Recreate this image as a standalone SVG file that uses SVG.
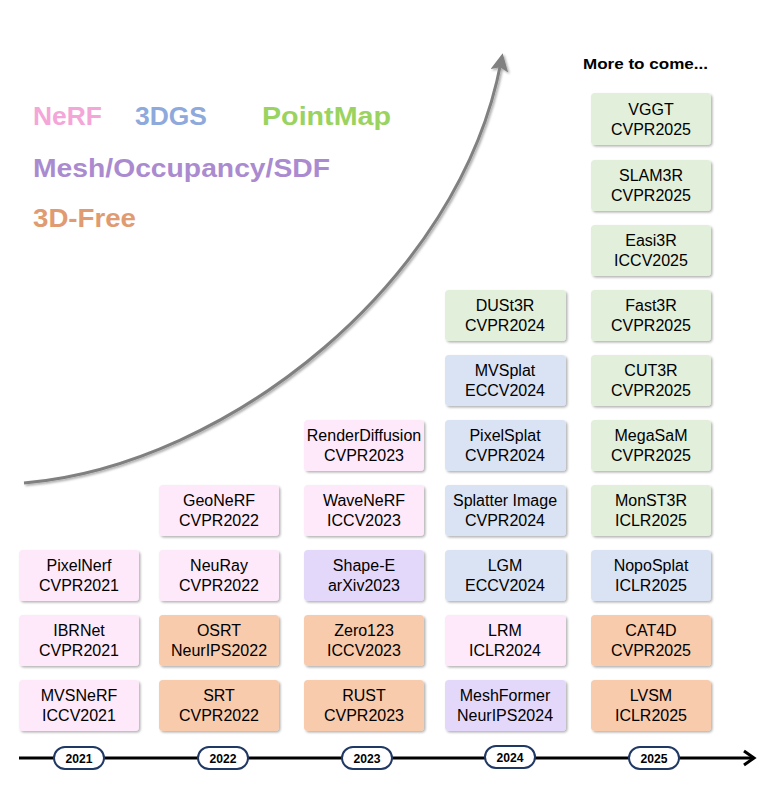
<svg xmlns="http://www.w3.org/2000/svg" width="759" height="786" viewBox="0 0 759 786">
<defs>
<style>
.box{stroke:none;filter:url(#sh)}
.nerf{fill:#FDE9F9}
.gs{fill:#DAE3F3}
.pm{fill:#E2EFDA}
.mesh{fill:#E4D8FA}
.free{fill:#F8CBAD}
.t{font-family:"Liberation Sans",Arial,sans-serif;font-size:16px;fill:#000;text-anchor:middle}
.leg{font-family:"Liberation Sans",Arial,sans-serif;font-size:25px;font-weight:bold}
.yr{font-family:"Liberation Sans",Arial,sans-serif;font-size:12.5px;font-weight:bold;fill:#000;text-anchor:middle}
.pill{fill:#fff;stroke:#203864;stroke-width:2}
</style>
<filter id="sh" x="-10%" y="-10%" width="130%" height="140%">
<feDropShadow dx="1.5" dy="1.5" stdDeviation="1" flood-color="#000" flood-opacity="0.3"/>
</filter>
<filter id="csh" x="-10%" y="-10%" width="130%" height="130%">
<feDropShadow dx="1.5" dy="1.5" stdDeviation="1" flood-color="#000" flood-opacity="0.35"/>
</filter>
<marker id="ah" markerWidth="6" markerHeight="6" refX="3" refY="3" orient="auto" markerUnits="strokeWidth">
<path d="M0,0 L6,3 L0,6 L1.2,3 Z" fill="#808080"/>
</marker>
</defs>
<rect width="759" height="786" fill="#fff"/>

<!-- legend -->
<g id="legend">
<text class="leg" x="33" y="125" fill="#F5A6D8" textLength="69" lengthAdjust="spacingAndGlyphs">NeRF</text>
<text class="leg" x="135" y="125" fill="#8EA9DB" textLength="72" lengthAdjust="spacingAndGlyphs">3DGS</text>
<text class="leg" x="262" y="125" fill="#9AD35F" textLength="129" lengthAdjust="spacingAndGlyphs">PointMap</text>
<text class="leg" x="33" y="177" fill="#AB8BD0" textLength="297" lengthAdjust="spacingAndGlyphs">Mesh/Occupancy/SDF</text>
<text class="leg" x="33" y="227" fill="#E09B72" textLength="103" lengthAdjust="spacingAndGlyphs">3D-Free</text>
</g>

<text x="583" y="69" font-family="Liberation Sans,Arial,sans-serif" font-size="15" font-weight="bold" textLength="125" lengthAdjust="spacingAndGlyphs">More to come...</text>

<!-- connectors -->
<g id="connectors">
<path d="M24,483 C230,465 460,280 501,62" fill="none" stroke="#808080" stroke-width="3" marker-end="url(#ah)" filter="url(#csh)"/>
<line x1="19" y1="758" x2="754" y2="758" stroke="#000" stroke-width="3"/>
<polyline points="744,751 754,758 744,765" fill="none" stroke="#000" stroke-width="3"/>
</g>

<!-- timeline years -->
<g id="y2021"><rect class="pill" x="54" y="747" width="50" height="22" rx="11"/><text class="yr" x="79" y="763" textLength="27" lengthAdjust="spacingAndGlyphs">2021</text></g>
<g id="y2022"><rect class="pill" x="198" y="747" width="50" height="22" rx="11"/><text class="yr" x="223" y="763" textLength="27" lengthAdjust="spacingAndGlyphs">2022</text></g>
<g id="y2023"><rect class="pill" x="342" y="747" width="50" height="22" rx="11"/><text class="yr" x="367" y="763" textLength="27" lengthAdjust="spacingAndGlyphs">2023</text></g>
<g id="y2024"><rect class="pill" x="485" y="746" width="50" height="22" rx="11"/><text class="yr" x="510" y="762" textLength="27" lengthAdjust="spacingAndGlyphs">2024</text></g>
<g id="y2025"><rect class="pill" x="629" y="747" width="50" height="22" rx="11"/><text class="yr" x="654" y="763" textLength="27" lengthAdjust="spacingAndGlyphs">2025</text></g>

<!-- 2021 -->
<g id="pixelnerf"><rect class="box nerf" x="19" y="550" width="120" height="51" rx="4"/><text class="t" x="79" y="571">PixelNerf</text><text class="t" x="79" y="591">CVPR2021</text></g>
<g id="ibrnet"><rect class="box nerf" x="19" y="615" width="120" height="51" rx="4"/><text class="t" x="79" y="636">IBRNet</text><text class="t" x="79" y="656">CVPR2021</text></g>
<g id="mvsnerf"><rect class="box nerf" x="19" y="680" width="120" height="51" rx="4"/><text class="t" x="79" y="701">MVSNeRF</text><text class="t" x="79" y="721">ICCV2021</text></g>

<!-- 2022 -->
<g id="geonerf"><rect class="box nerf" x="159" y="485" width="120" height="51" rx="4"/><text class="t" x="219" y="506">GeoNeRF</text><text class="t" x="219" y="526">CVPR2022</text></g>
<g id="neuray"><rect class="box nerf" x="159" y="550" width="120" height="51" rx="4"/><text class="t" x="219" y="571">NeuRay</text><text class="t" x="219" y="591">CVPR2022</text></g>
<g id="osrt"><rect class="box free" x="159" y="615" width="120" height="51" rx="4"/><text class="t" x="219" y="636">OSRT</text><text class="t" x="219" y="656">NeurIPS2022</text></g>
<g id="srt"><rect class="box free" x="159" y="680" width="120" height="51" rx="4"/><text class="t" x="219" y="701">SRT</text><text class="t" x="219" y="721">CVPR2022</text></g>

<!-- 2023 -->
<g id="renderdiffusion"><rect class="box nerf" x="304" y="420" width="120" height="51" rx="4"/><text class="t" x="364" y="441">RenderDiffusion</text><text class="t" x="364" y="461">CVPR2023</text></g>
<g id="wavenerf"><rect class="box nerf" x="304" y="485" width="120" height="51" rx="4"/><text class="t" x="364" y="506">WaveNeRF</text><text class="t" x="364" y="526">ICCV2023</text></g>
<g id="shapee"><rect class="box mesh" x="304" y="550" width="120" height="51" rx="4"/><text class="t" x="364" y="571">Shape-E</text><text class="t" x="364" y="591">arXiv2023</text></g>
<g id="zero123"><rect class="box free" x="304" y="615" width="120" height="51" rx="4"/><text class="t" x="364" y="636">Zero123</text><text class="t" x="364" y="656">ICCV2023</text></g>
<g id="rust"><rect class="box free" x="304" y="680" width="120" height="51" rx="4"/><text class="t" x="364" y="701">RUST</text><text class="t" x="364" y="721">CVPR2023</text></g>

<!-- 2024 -->
<g id="dust3r"><rect class="box pm" x="445" y="290" width="121" height="51" rx="4"/><text class="t" x="505" y="311">DUSt3R</text><text class="t" x="505" y="331">CVPR2024</text></g>
<g id="mvsplat"><rect class="box gs" x="445" y="355" width="121" height="51" rx="4"/><text class="t" x="505" y="376">MVSplat</text><text class="t" x="505" y="396">ECCV2024</text></g>
<g id="pixelsplat"><rect class="box gs" x="445" y="420" width="121" height="51" rx="4"/><text class="t" x="505" y="441">PixelSplat</text><text class="t" x="505" y="461">CVPR2024</text></g>
<g id="splatterimage"><rect class="box gs" x="445" y="485" width="121" height="51" rx="4"/><text class="t" x="505" y="506">Splatter Image</text><text class="t" x="505" y="526">CVPR2024</text></g>
<g id="lgm"><rect class="box gs" x="445" y="550" width="121" height="51" rx="4"/><text class="t" x="505" y="571">LGM</text><text class="t" x="505" y="591">ECCV2024</text></g>
<g id="lrm"><rect class="box nerf" x="445" y="615" width="121" height="51" rx="4"/><text class="t" x="505" y="636">LRM</text><text class="t" x="505" y="656">ICLR2024</text></g>
<g id="meshformer"><rect class="box mesh" x="445" y="680" width="121" height="51" rx="4"/><text class="t" x="505" y="701">MeshFormer</text><text class="t" x="505" y="721">NeurIPS2024</text></g>

<!-- 2025 -->
<g id="vggt"><rect class="box pm" x="591" y="93" width="120" height="52" rx="4"/><text class="t" x="651" y="115">VGGT</text><text class="t" x="651" y="135">CVPR2025</text></g>
<g id="slam3r"><rect class="box pm" x="591" y="160" width="120" height="51" rx="4"/><text class="t" x="651" y="181">SLAM3R</text><text class="t" x="651" y="201">CVPR2025</text></g>
<g id="easi3r"><rect class="box pm" x="591" y="225" width="120" height="51" rx="4"/><text class="t" x="651" y="246">Easi3R</text><text class="t" x="651" y="266">ICCV2025</text></g>
<g id="fast3r"><rect class="box pm" x="591" y="290" width="120" height="51" rx="4"/><text class="t" x="651" y="311">Fast3R</text><text class="t" x="651" y="331">CVPR2025</text></g>
<g id="cut3r"><rect class="box pm" x="591" y="355" width="120" height="51" rx="4"/><text class="t" x="651" y="376">CUT3R</text><text class="t" x="651" y="396">CVPR2025</text></g>
<g id="megasam"><rect class="box pm" x="591" y="420" width="120" height="51" rx="4"/><text class="t" x="651" y="441">MegaSaM</text><text class="t" x="651" y="461">CVPR2025</text></g>
<g id="monst3r"><rect class="box pm" x="591" y="485" width="120" height="51" rx="4"/><text class="t" x="651" y="506">MonST3R</text><text class="t" x="651" y="526">ICLR2025</text></g>
<g id="noposplat"><rect class="box gs" x="591" y="550" width="120" height="51" rx="4"/><text class="t" x="651" y="571">NopoSplat</text><text class="t" x="651" y="591">ICLR2025</text></g>
<g id="cat4d"><rect class="box free" x="591" y="615" width="120" height="51" rx="4"/><text class="t" x="651" y="636">CAT4D</text><text class="t" x="651" y="656">CVPR2025</text></g>
<g id="lvsm"><rect class="box free" x="591" y="680" width="120" height="51" rx="4"/><text class="t" x="651" y="701">LVSM</text><text class="t" x="651" y="721">ICLR2025</text></g>
</svg>
